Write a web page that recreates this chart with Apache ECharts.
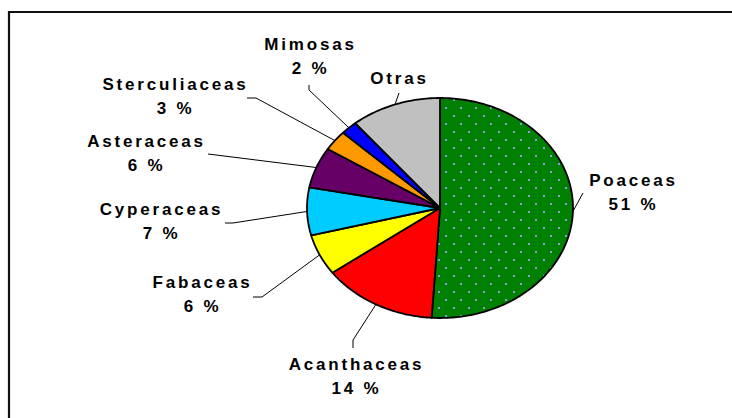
<!DOCTYPE html>
<html><head><meta charset="utf-8">
<script src="https://cdn.jsdelivr.net/npm/echarts@6/dist/echarts.min.js"></script>
<style>
html,body{margin:0;padding:0;background:#fff;}
#chart{width:732px;height:418px;}
#chart text{letter-spacing:2.8px;}
</style></head><body>
<div id="chart"></div>
<script>
// ---- data ----
const categories = ['Poaceas','Acanthaceas','Fabaceas','Cyperaceas','Asteraceas','Sterculiaceas','Mimosas','Otras'];
const values = [51, 14, 6, 7, 6, 3, 2, 11];
const showPercent = [true, true, true, true, true, true, true, false];

// ---- styles / layout ----
const sliceColors = ['pattern','#FF0000','#FFFF00','#00CCFF','#660066','#FF9900','#0000FF','#C0C0C0'];
const CX = 440, CY = 208, RX = 133, RY = 110;
const LINE_H = 24;
// manually placed labels (as in the original): text centre x, first-line centre y, leader points
const labelLayout = [
  {tx: 632, ty: 180, pts: [[583,193]]},
  {tx: 355, ty: 364, pts: [[353,340],[353,348]]},
  {tx: 201, ty: 282, pts: [[262,297],[253,297]]},
  {tx: 160, ty: 209, pts: [[233,223],[225,223]]},
  {tx: 145, ty: 141, pts: [[208,154]]},
  {tx: 174, ty: 84,  pts: [[256,98],[247,98]]},
  {tx: 309, ty: 44,  pts: [[309,90],[309,85]]},
  {tx: 398, ty: 78,  pts: [[399,93]]}
];

// dotted green pattern
function makePattern() {
  const c = document.createElement('canvas');
  c.width = 15; c.height = 16;
  const g = c.getContext('2d');
  g.fillStyle = '#008000'; g.fillRect(0, 0, 15, 16);
  g.fillStyle = '#8c9cd8';
  g.fillRect(3, 3, 2, 2);
  g.fillRect(10, 11, 2, 2);
  return {image: c.toDataURL(), repeat: 'repeat'};
}
const greenPattern = makePattern();

const total = values.reduce((a, b) => a + b, 0);
const starts = [];
let acc = 0;
values.forEach(v => { starts.push(acc); acc += v; });

function ellPoint(frac) {
  const t = frac * Math.PI * 2;
  return [CX + RX * Math.sin(t), CY - RY * Math.cos(t)];
}

const chart = echarts.init(document.getElementById('chart'), null, {renderer: 'svg'});

chart.setOption({
  backgroundColor: '#fff',
  animation: false,
  graphic: [{
    type: 'rect', z: 0,
    shape: {x: 9, y: 12, width: 760, height: 440},
    style: {fill: 'none', stroke: '#111', lineWidth: 2.2}
  }],
  series: [{
    type: 'custom',
    coordinateSystem: 'none',
    data: values.map((v, i) => [i, v]),
    renderItem: function (params, api) {
      const i = params.dataIndex;
      const v = api.value(1);
      const f0 = starts[i] / total, f1 = (starts[i] + v) / total;
      const pts = [[CX, CY]];
      const n = Math.max(4, Math.ceil((f1 - f0) * 360));
      for (let k = 0; k <= n; k++) pts.push(ellPoint(f0 + (f1 - f0) * k / n));
      const color = sliceColors[i] === 'pattern' ? greenPattern : sliceColors[i];
      const anchor = ellPoint((f0 + f1) / 2);
      const L = labelLayout[i];
      const txt = categories[i] + (showPercent[i] ? '\n' + v + ' %' : '');
      return {
        type: 'group',
        children: [
          {type: 'polygon', shape: {points: pts},
           style: {fill: color, stroke: '#000', lineWidth: 1.8, lineJoin: 'round'}},
          {type: 'polyline', z2: 10, shape: {points: [anchor].concat(L.pts)},
           style: {fill: 'none', stroke: '#000', lineWidth: 1}},
          {type: 'text', z2: 11, x: L.tx + 1.5, y: L.ty - LINE_H / 2,
           style: {text: txt, fill: '#000', align: 'center', verticalAlign: 'top',
                   font: 'bold 17px "Liberation Sans", Arial, sans-serif', lineHeight: LINE_H}}
        ]
      };
    }
  }]
});
</script>
</body></html>
